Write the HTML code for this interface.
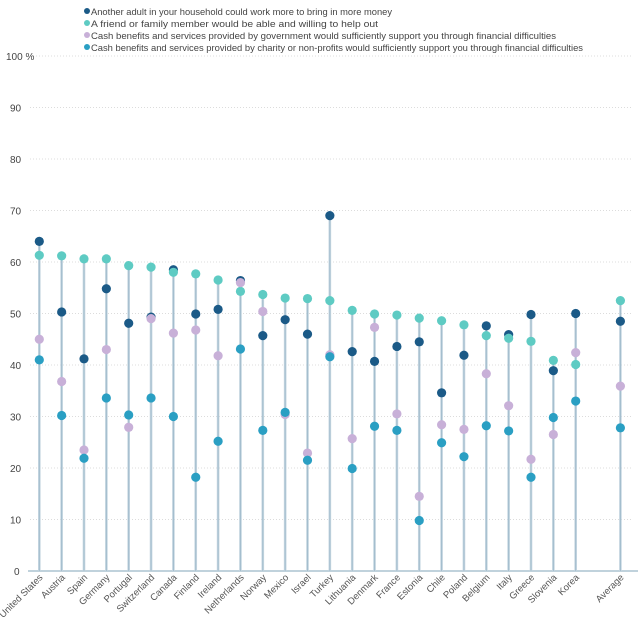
<!DOCTYPE html>
<html><head><meta charset="utf-8"><style>
body{margin:0;background:#fff;font-family:"Liberation Sans",sans-serif;}
svg text{font-family:"Liberation Sans",sans-serif;}
</style></head><body>
<svg id="chart" width="638" height="632" viewBox="0 0 638 632" xmlns="http://www.w3.org/2000/svg">
<g id="legend"></g>
<g id="grid"></g>
<g id="stems"></g>
<g id="dots"></g>
<g id="xlabels"></g>
</svg>
<script>
const categories=["United States","Austria","Spain","Germany","Portugal","Switzerland","Canada","Finland","Ireland","Netherlands","Norway","Mexico","Israel","Turkey","Lithuania","Denmark","France","Estonia","Chile","Poland","Belgium","Italy","Greece","Slovenia","Korea","Average"];
const catIndex=[0,1,2,3,4,5,6,7,8,9,10,11,12,13,14,15,16,17,18,19,20,21,22,23,24,26];
const adultWork=[64,50.3,41.2,54.8,48.1,49.3,58.5,49.9,50.8,56.4,45.7,48.8,46,69,42.6,40.7,43.6,44.5,34.6,41.9,47.6,45.9,49.8,38.9,50,48.5];
const friendFamily=[61.3,61.2,60.6,60.6,59.3,59,58,57.7,56.5,54.3,53.7,53,52.9,52.5,50.6,49.9,49.7,49.1,48.6,47.8,45.7,45.2,44.6,40.9,40.1,52.5];
const government=[45,36.8,23.5,43,27.9,49,46.2,46.8,41.8,56,50.4,30.4,22.9,42,25.7,47.3,30.5,14.5,28.4,27.5,38.3,32.1,21.7,26.5,42.4,35.9];
const charity=[41,30.2,21.9,33.6,30.3,33.6,30,18.2,25.2,43.1,27.3,30.8,21.5,41.6,19.9,28.1,27.3,9.8,24.9,22.2,28.2,27.2,18.2,29.8,33,27.8];
const yTicks=[0,10,20,30,40,50,60,70,80,90,100];
const seriesNames=["Another adult in your household could work more to bring in more money","A friend or family member would be able and willing to help out","Cash benefits and services provided by government would sufficiently support you through financial difficulties","Cash benefits and services provided by charity or non-profits would sufficiently support you through financial difficulties"];

const NS="http://www.w3.org/2000/svg";
const colors=["#1b5a87","#5ecbc3","#c8b0d8","#2a9fc3"];
const seriesData=[adultWork,friendFamily,government,charity];
const seriesKeys=["adult-work","friend-family","government","charity"];
const legendWidths=[301,287,465,492];
const y=v=>571-v*5.15;
const x=i=>39.3+i*22.35;
function mk(tag,attrs,parent){const e=document.createElementNS(NS,tag);for(const k in attrs)e.setAttribute(k,attrs[k]);parent.appendChild(e);return e;}

const legend=document.getElementById('legend');
seriesNames.forEach((n,i)=>{
  const g=mk('g',{},legend);
  
  
  mk('circle',{cx:87,cy:11+i*12,r:3,fill:colors[i]},g);
  const t=mk('text',{x:91,y:15+i*12,'font-size':9.4,fill:'#444',textLength:legendWidths[i],lengthAdjust:'spacingAndGlyphs'},g);
  t.textContent=n;
});

const grid=document.getElementById('grid');
yTicks.forEach(v=>{
  if(v>0){
    const l=mk('line',{x1:30,x2:632,y1:y(v),y2:y(v),stroke:'#dcdcdc','stroke-dasharray':'1,2','stroke-width':1},grid);
    
    
  }
  const t=mk('text',{x:v===100?6:(v===0?14:10),y:y(v)+4,'font-size':10,fill:'#444'},grid);
  
  
  t.textContent=v===100?'100  %':String(v);
});
const ax=mk('line',{x1:28,x2:638,y1:571,y2:571,stroke:'#9bb6c8','stroke-width':1.2},grid);



const stems=document.getElementById('stems');
const dots=document.getElementById('dots');
const xl=document.getElementById('xlabels');
categories.forEach((c,j)=>{
  const cx=x(catIndex[j]);
  const mx=Math.max(adultWork[j],friendFamily[j],government[j],charity[j]);
  const s=mk('line',{x1:cx,x2:cx,y1:571,y2:y(mx),stroke:'#c4d5e0','stroke-width':2.6},stems);
  
  
  const s2=mk('line',{x1:cx,x2:cx,y1:571,y2:y(mx),stroke:'#9cb8c9','stroke-width':0.8},stems);
  
  
  const t=mk('text',{x:0,y:0,'font-size':9.5,fill:'#555','text-anchor':'end',transform:`translate(${cx+4},${578}) rotate(-45)`},xl);
  
  
  t.textContent=c;
});
seriesData.forEach((arr,si)=>{
  arr.forEach((v,j)=>{
    const d=mk('circle',{cx:x(catIndex[j]),cy:y(v),r:4.6,fill:colors[si]},dots);
    
    
  });
});
</script>
</body></html>
